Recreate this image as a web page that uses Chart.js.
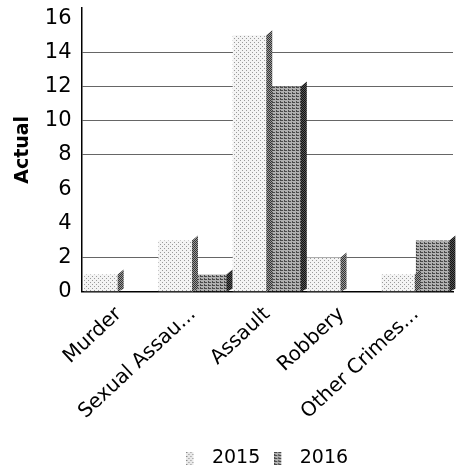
<!DOCTYPE html>
<html>
<head>
<meta charset="utf-8">
<script src="https://cdn.jsdelivr.net/npm/chart.js@4"></script>
<style>
  html, body { margin: 0; padding: 0; background: #fff; }
  #wrap { width: 457px; height: 473px; }
</style>
</head>
<body>
<div id="wrap"><canvas id="chart" width="457" height="473"></canvas></div>
<script>
const categories = ['Murder', 'Sexual Assau...', 'Assault', 'Robbery', 'Other Crimes...'];
const seriesNames = ['2015', '2016'];
const values2015 = [1, 3, 15, 2, 1];
const values2016 = [0, 1, 12, 0, 3];
const tickValues = [0, 2, 4, 6, 8, 10, 12, 14, 16];
const gridShown = [2, 8, 10, 12, 14];

// small textured fills, like the scanned print
function makePattern(bg, dot, cells, w, h) {
  const c = document.createElement('canvas');
  c.width = w; c.height = h;
  const g = c.getContext('2d');
  g.fillStyle = bg;
  g.fillRect(0, 0, w, h);
  g.fillStyle = dot;
  cells.forEach(p => g.fillRect(p[0], p[1], 1, 1));
  return g.createPattern(c, 'repeat');
}
// legend swatch: narrow patterned box with empty space after it
function makeSwatch(pattern) {
  const c = document.createElement('canvas');
  c.width = 16; c.height = 13;
  const g = c.getContext('2d');
  g.fillStyle = pattern;
  g.fillRect(0, 0, 7, 13);
  return c;
}
const ctx = document.getElementById('chart').getContext('2d');
const fill2015 = makePattern('#f4f4f4', '#9a9a9a', [[0, 0], [2, 2]], 4, 4);
const fill2016 = makePattern('#b0b0b0', '#4a4a4a', [[0, 0], [1, 0], [2, 0], [0, 2]], 4, 3);
const side2015 = makePattern('#9a9a9a', '#333', [[0, 0], [1, 1]], 2, 2);
const side2016 = makePattern('#555', '#111', [[0, 0], [1, 1]], 2, 2);
const swatches = [makeSwatch(makePattern('#e8e8e8', '#888', [[0, 0], [2, 2]], 4, 4)), makeSwatch(fill2016)];

// fake 3d side face on each bar
const sideFaces = {
  id: 'sideFaces',
  afterDatasetsDraw(chart) {
    const c = chart.ctx;
    const base = chart.scales.y.getPixelForValue(0);
    [side2015, side2016].forEach((pat, di) => {
      chart.getDatasetMeta(di).data.forEach(bar => {
        if (base - bar.y < 1) return;
        const x = bar.x + bar.width / 2;
        c.save();
        c.fillStyle = pat;
        c.beginPath();
        c.moveTo(x - 1, bar.y);
        c.lineTo(x + 5, bar.y - 5);
        c.lineTo(x + 5, base - 3);
        c.lineTo(x - 1, base);
        c.closePath();
        c.fill();
        c.restore();
      });
    });
  }
};

new Chart(ctx, {
  type: 'bar',
  data: {
    labels: categories,
    datasets: [
      { label: seriesNames[0], data: values2015, backgroundColor: fill2015, borderWidth: 0 },
      { label: seriesNames[1], data: values2016, backgroundColor: fill2016, borderWidth: 0 }
    ]
  },
  options: {
    responsive: false,
    animation: false,
    layout: { padding: { left: 8, right: 4, top: 8, bottom: -5 } },
    datasets: { bar: { categoryPercentage: 0.93, barPercentage: 1.0 } },
    plugins: {
      tooltip: { enabled: false },
      legend: {
        position: 'bottom',
        fullSize: false,
        labels: {
          color: '#000',
          font: { family: 'DejaVu Sans', size: 19 },
          usePointStyle: true,
          pointStyleWidth: 16,
          boxHeight: 13,
          padding: 14,
          generateLabels: chart => Chart.defaults.plugins.legend.labels.generateLabels(chart)
            .map((item, i) => Object.assign(item, { pointStyle: swatches[i] }))
        }
      }
    },
    scales: {
      x: {
        grid: { display: false, drawTicks: false },
        border: { color: '#000', width: 1.5 },
        ticks: {
          color: '#000',
          font: { family: 'DejaVu Sans', size: 20 },
          minRotation: 43,
          maxRotation: 43,
          autoSkip: false,
          padding: 11
        }
      },
      y: {
        min: 0,
        max: 16.6,
        afterBuildTicks: axis => { axis.ticks = tickValues.map(v => ({ value: v })); },
        afterFit: axis => { axis.paddingTop = 0; },
        title: {
          display: true,
          text: 'Actual',
          color: '#000',
          font: { family: 'DejaVu Sans', size: 19, weight: 'bold' },
          padding: { bottom: 0 }
        },
        grid: {
          drawTicks: false,
          color: c => gridShown.includes(c.tick && c.tick.value) ? '#666' : 'rgba(0,0,0,0)',
          lineWidth: 1
        },
        border: { color: '#000', width: 1.5 },
        ticks: {
          color: '#000',
          font: { family: 'DejaVu Sans', size: 21 },
          padding: 10
        }
      }
    }
  },
  plugins: [sideFaces]
});
</script>
</body>
</html>
